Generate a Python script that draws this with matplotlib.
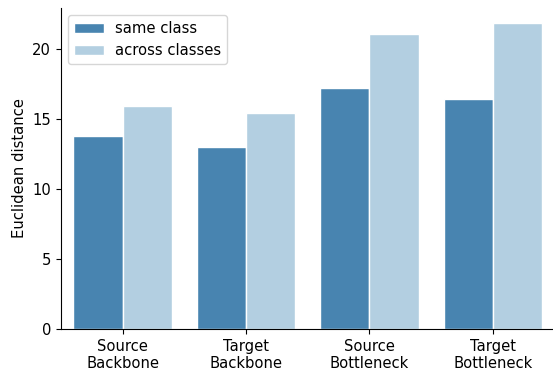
import matplotlib
matplotlib.use("Agg")
import matplotlib.pyplot as plt
import pandas as pd
import seaborn as sns

categories = ["Source\nBackbone", "Target\nBackbone", "Source\nBottleneck", "Target\nBottleneck"]
same_class = [13.8, 13.0, 17.2, 16.45]
across_classes = [15.95, 15.4, 21.1, 21.85]

plt.rcParams["font.size"] = 10.6

df = pd.DataFrame({
    "cat": categories * 2,
    "dist": same_class + across_classes,
    "type": ["same class"] * 4 + ["across classes"] * 4,
})

fig, ax = plt.subplots(figsize=(5.53, 3.74), dpi=100)
sns.barplot(data=df, x="cat", y="dist", hue="type",
            palette=["#4884b0", "#b3cfe1"], saturation=1,
            edgecolor="white", linewidth=1, ax=ax)

ax.set_xlabel("")
ax.set_ylabel("Euclidean distance")
ax.set_yticks([0, 5, 10, 15, 20])
ax.spines["top"].set_visible(False)
ax.spines["right"].set_visible(False)
ax.legend(loc="upper left", title=None)

fig.subplots_adjust(left=0.11, right=1.003, top=0.979, bottom=0.12)
fig.savefig("out.png", dpi=100)
